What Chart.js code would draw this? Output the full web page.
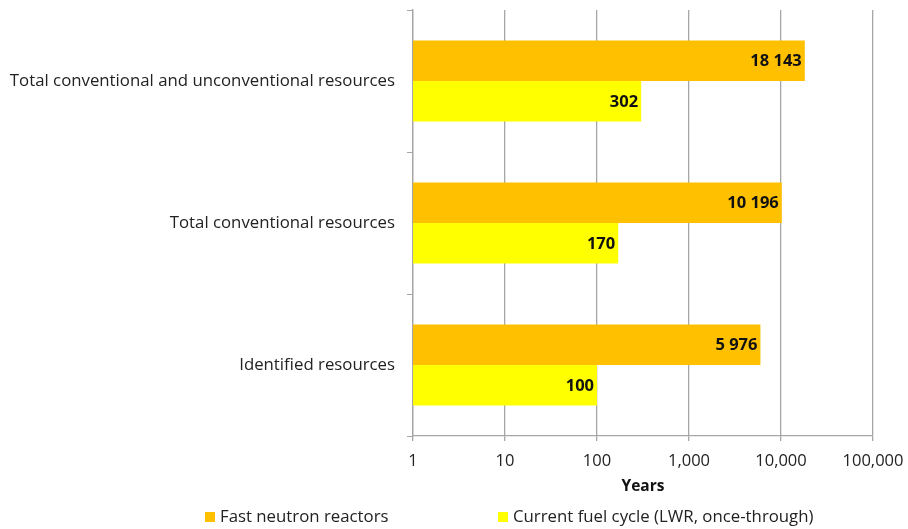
<!DOCTYPE html>
<html><head><meta charset="utf-8">
<script src="https://cdn.jsdelivr.net/npm/chart.js@4/dist/chart.umd.min.js"></script>
<style>html,body{margin:0;padding:0;background:#fff}#w{width:908px;height:529px}</style>
</head><body><div id="w"><canvas id="c"></canvas></div>
<script>
const categories = ['Total conventional and unconventional resources','Total conventional resources','Identified resources'];
const fastNeutron = [18143, 10196, 5976];
const currentCycle = [302, 170, 100];
const fastLabels = ['18 143','10 196','5 976'];
const currentLabels = ['302','170','100'];
const tickValues = [1, 10, 100, 1000, 10000, 100000];
const tickLabels = ['1','10','100','1,000','10,000','100,000'];
const seriesNames = ['Fast neutron reactors','Current fuel cycle (LWR, once-through)'];
const colors = ['#FFC000','#FFFF00'];
const FONT = "'Open Sans', sans-serif";
const GRID = '#a6a6a6';

const labelPlugin = {
  id: 'barLabels',
  afterDatasetsDraw(chart) {
    const ctx = chart.ctx;
    const texts = [fastLabels, currentLabels];
    ctx.save();
    ctx.font = "bold 16.5px " + FONT;
    ctx.fillStyle = '#111';
    ctx.textAlign = 'right';
    ctx.textBaseline = 'middle';
    chart.data.datasets.forEach((ds, di) => {
      chart.getDatasetMeta(di).data.forEach((bar, i) => {
        ctx.fillText(texts[di][i], bar.x - 3, bar.y + 1);
      });
    });
    ctx.restore();
  }
};
const legendPlugin = {
  id: 'customLegend',
  afterDraw(chart) {
    const ctx = chart.ctx;
    const xs = [205, 498];
    const y = 517;
    ctx.save();
    ctx.font = "16.8px " + FONT;
    ctx.textBaseline = 'middle';
    ctx.textAlign = 'left';
    seriesNames.forEach((n, i) => {
      ctx.fillStyle = colors[i];
      ctx.fillRect(xs[i], y - 5, 10, 10);
      ctx.fillStyle = '#222';
      ctx.fillText(n, xs[i] + 15, y);
    });
    ctx.restore();
  }
};

new Chart(document.getElementById('c'), {
  type: 'bar',
  data: {
    labels: categories,
    datasets: [
      {label: seriesNames[0], data: fastNeutron, backgroundColor: colors[0], categoryPercentage: 0.57, barPercentage: 1.0},
      {label: seriesNames[1], data: currentCycle, backgroundColor: colors[1], categoryPercentage: 0.57, barPercentage: 1.0}
    ]
  },
  options: {
    indexAxis: 'y',
    responsive: true,
    maintainAspectRatio: false,
    animation: false,
    layout: {padding: {left: 0, right: 35, top: 10, bottom: 33}},
    plugins: {legend: {display: false}, tooltip: {enabled: false}},
    scales: {
      x: {
        type: 'logarithmic',
        min: 1, max: 100000,
        afterBuildTicks(s) { s.ticks = tickValues.map(v => ({value: v})); },
        afterFit(s) { s.height = 60; s.paddingLeft = 0; s.paddingRight = 0; },
        ticks: {
          autoSkip: false, maxRotation: 0, color: '#222',
          font: {family: FONT, size: 16.5}, padding: 10,
          callback: (v) => { const i = tickValues.indexOf(v); return i >= 0 ? tickLabels[i] : ''; }
        },
        grid: {color: GRID, lineWidth: 1.3, tickLength: 5},
        border: {color: GRID, width: 1.3},
        title: {display: true, text: 'Years', color: '#111', font: {family: FONT, size: 15.5, weight: 'bold'}, padding: {top: 9, bottom: 0}}
      },
      y: {
        afterFit(s) { s.width = 413; s.paddingTop = 0; s.paddingBottom = 0; },
        ticks: {color: '#222', font: {family: FONT, size: 16.8}, padding: 12},
        grid: {display: true, drawOnChartArea: false, color: GRID, tickLength: 6, offset: true},
        border: {color: GRID, width: 1.3}
      }
    }
  },
  plugins: [labelPlugin, legendPlugin]
});
</script></body></html>
